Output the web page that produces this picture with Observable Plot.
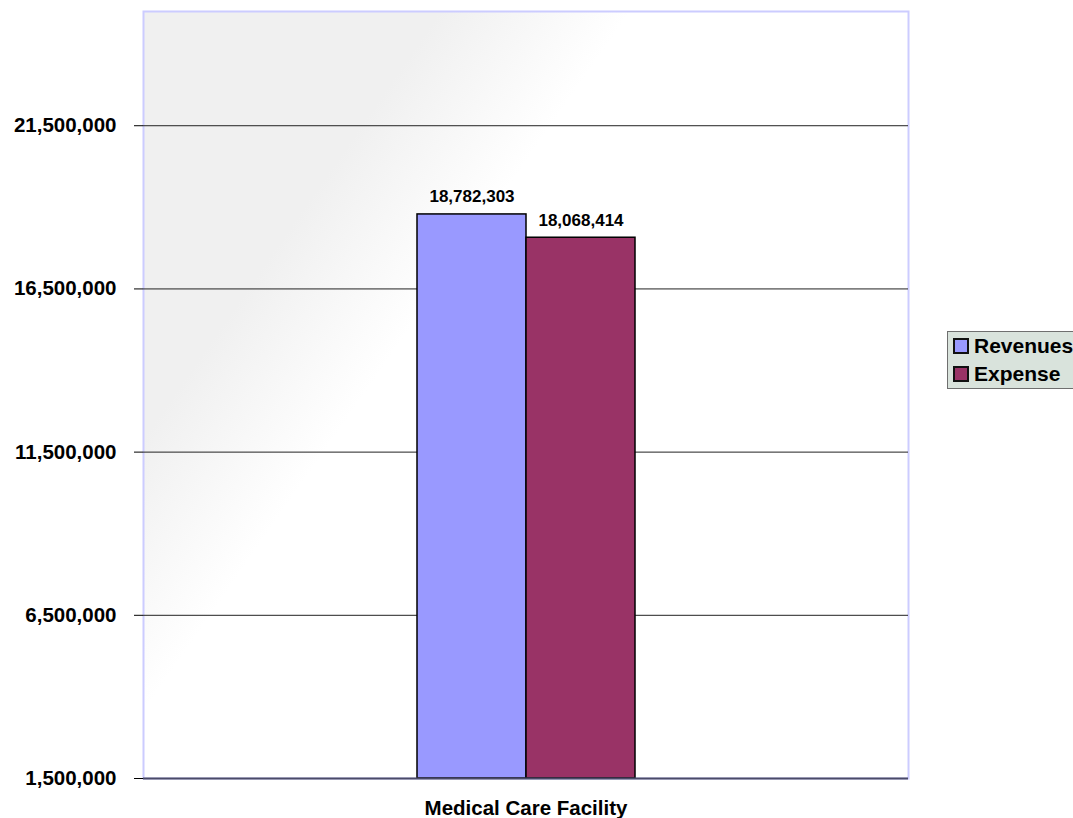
<!DOCTYPE html>
<html>
<head>
<meta charset="utf-8">
<script src="https://cdn.jsdelivr.net/npm/d3@7"></script>
<script src="https://cdn.jsdelivr.net/npm/@observablehq/plot@0.6"></script>
<style>
  html, body { margin: 0; padding: 0; background: #fff; overflow: hidden; }
  #wrap { position: relative; width: 1073px; height: 818px; font-family: "Liberation Sans", Arial, sans-serif; }
  #legend { position: absolute; left: 947px; top: 331px; width: 140px; height: 58px;
    background: #d9e3dc; border: 1px solid #6f6f6f; box-sizing: border-box; }
  .item { position: absolute; left: 5px; display: flex; align-items: center; font-weight: bold; font-size: 21px; line-height: 24px; color: #000; }
  .sw { width: 16px; height: 16px; border: 2px solid #111; margin-right: 5px; box-sizing: border-box; }
</style>
</head>
<body>
<div id="wrap"><div id="chart"></div><div id="legend"></div></div>
<script>
const category = "Medical Care Facility";
const series = ["Revenues", "Expense"];
const values = [18782303, 18068414];
const colors = ["#9999ff", "#993366"];
const yTicks = [1500000, 6500000, 11500000, 16500000, 21500000];
const yDomain = [1500000, 25000000];

const data = series.map((s, i) => ({category, series: s, value: values[i]}));
const fmt = d3.format(",");

const chart = Plot.plot({
  width: 1073,
  height: 818,
  marginLeft: 143,
  marginRight: 165,
  marginTop: 11,
  marginBottom: 40,
  style: {fontFamily: "'Liberation Sans', Arial, sans-serif", background: "transparent"},
  fx: {domain: [category], padding: 0, label: null},
  x: {domain: series, paddingInner: 0, paddingOuter: 2.493, axis: null},
  y: {domain: yDomain, ticks: yTicks},
  color: {domain: series, range: colors},
  marks: [
    Plot.frame({fill: "#f0f0f0", stroke: "#ccccff", strokeWidth: 2, className: "bgframe"}),
    Plot.ruleY(yTicks.slice(1), {stroke: "#222", strokeWidth: 1}),
    Plot.barY(data, {fx: "category", x: "series", y1: yDomain[0], y2: "value", fill: "series", stroke: "#000", strokeWidth: 1.5}),
    Plot.text(data, {fx: "category", x: "series", y: "value", text: d => fmt(d.value), dy: -12, lineAnchor: "bottom", fontWeight: "bold", fontSize: 17, fill: "#000"}),
    Plot.ruleY([yDomain[0]], {stroke: "#4a4a68", strokeWidth: 2}),
    Plot.ruleX([0], {frameAnchor: "left", insetBottom: -7, stroke: "#4a4a68", strokeWidth: 2}),
    Plot.ruleX([0], {frameAnchor: "right", y1: yDomain[0], y2: yDomain[0], insetBottom: -7, stroke: "#222", strokeWidth: 1.5}),
    Plot.axisY({ticks: yTicks, tickFormat: fmt, tickSize: 9, tickPadding: 18, stroke: "#000", fontWeight: "bold", fontSize: 20.5, color: "#000", label: null}),
    Plot.axisFx({anchor: "bottom", tickSize: 0, tickPadding: 22, fontWeight: "bold", fontSize: 20.5, label: null})
  ]
});

// gradient background for the plot frame
const svg = d3.select(chart);
const defs = svg.insert("defs", ":first-child");
const grad = defs.append("linearGradient").attr("id", "bgGrad")
  .attr("gradientUnits", "userSpaceOnUse")
  .attr("x1", 440).attr("y1", 11).attr("x2", 568).attr("y2", 100);
grad.append("stop").attr("offset", 0).attr("stop-color", "#f0f0f0");
grad.append("stop").attr("offset", 1).attr("stop-color", "#ffffff");
svg.selectAll(".bgframe rect, rect.bgframe, g.bgframe rect").attr("fill", "url(#bgGrad)");
svg.selectAll("[aria-label=frame] rect, rect[aria-label=frame]").attr("fill", "url(#bgGrad)");

document.getElementById("chart").appendChild(chart);

const legend = document.getElementById("legend");
series.forEach((s, i) => {
  const it = document.createElement("div");
  it.className = "item";
  it.style.top = (i === 0 ? 2 : 30) + "px";
  const sw = document.createElement("span");
  sw.className = "sw";
  sw.style.background = colors[i];
  it.appendChild(sw);
  it.appendChild(document.createTextNode(s));
  legend.appendChild(it);
});
</script>
</body>
</html>
